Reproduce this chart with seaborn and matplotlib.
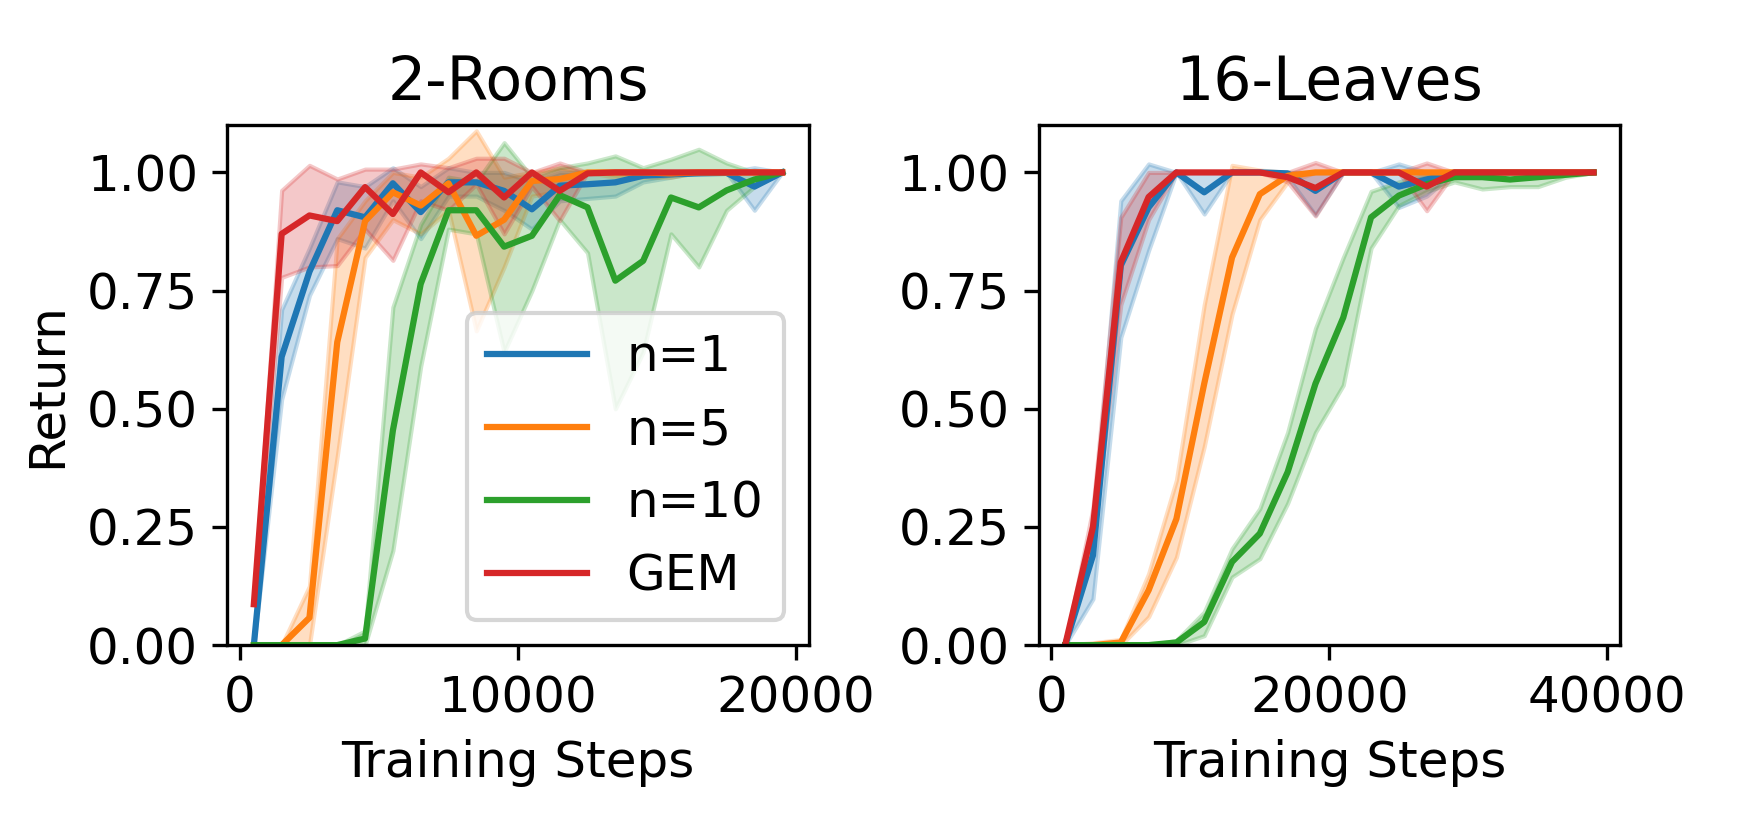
import matplotlib
matplotlib.use('Agg')
import matplotlib.pyplot as plt
import seaborn as sns
import pandas as pd

# ---- data ----
methods = ['n=1', 'n=5', 'n=10', 'GEM']
colors = ['#1f77b4', '#ff7f0e', '#2ca02c', '#d62728']

# 2-Rooms
rooms_steps = [500, 1500, 2500, 3500, 4500, 5500, 6500, 7500, 8500, 9500,
               10500, 11500, 12500, 13500, 14500, 15500, 16500, 17500, 18500, 19500]
rooms_n1 = [0.0, 0.61, 0.79, 0.92, 0.905, 0.977, 0.916, 0.979, 0.979, 0.961,
            0.922, 0.972, 0.975, 0.979, 0.993, 0.996, 0.998, 0.999, 0.97, 1.0]
rooms_n1_lo = [0.0, 0.52, 0.74, 0.86, 0.84, 0.94, 0.86, 0.95, 0.95, 0.92,
               0.88, 0.94, 0.945, 0.95, 0.98, 0.99, 1.0, 1.0, 0.92, 1.0]
rooms_n1_hi = [0.0, 0.71, 0.84, 0.98, 0.97, 1.01, 0.97, 1.01, 1.0, 1.0,
               0.98, 1.0, 1.0, 1.0, 1.0, 1.0, 1.0, 1.0, 1.01, 1.0]
rooms_n5 = [0.0, 0.0, 0.058, 0.641, 0.897, 0.958, 0.93, 0.977, 0.866, 0.90,
            0.982, 0.986, 1.0, 1.0, 1.0, 0.998, 1.0, 1.0, 1.0, 1.0]
rooms_n5_lo = [0.0, 0.0, 0.0, 0.40, 0.82, 0.90, 0.87, 0.92, 0.665, 0.80,
               0.95, 0.96, 1.0, 0.99, 0.99, 0.99, 1.0, 1.0, 1.0, 1.0]
rooms_n5_hi = [0.0, 0.0, 0.125, 0.86, 0.94, 1.0, 0.99, 1.03, 1.088, 0.99,
               1.0, 1.01, 1.0, 1.0, 1.0, 1.0, 1.0, 1.0, 1.0, 1.0]
rooms_n10 = [0.0, 0.0, 0.0, 0.0, 0.014, 0.454, 0.764, 0.92, 0.92, 0.843,
             0.866, 0.952, 0.926, 0.771, 0.813, 0.947, 0.926, 0.962, 0.985, 1.0]
rooms_n10_lo = [0.0, 0.0, 0.0, 0.0, 0.0, 0.20, 0.59, 0.88, 0.87, 0.62,
                0.75, 0.90, 0.83, 0.50, 0.62, 0.87, 0.80, 0.92, 0.97, 1.0]
rooms_n10_hi = [0.0, 0.0, 0.0, 0.0, 0.03, 0.715, 0.89, 0.99, 0.98, 1.063,
                0.99, 1.01, 1.02, 1.035, 1.01, 1.028, 1.049, 1.02, 1.0, 1.0]
rooms_gem = [0.0865, 0.870, 0.909, 0.897, 0.969, 0.912, 1.0, 0.958, 1.0, 0.947,
             1.0, 0.961, 0.998, 1.0, 1.0, 1.0, 1.0, 1.0, 1.0, 1.0]
rooms_gem_lo = [0.0865, 0.778, 0.80, 0.803, 0.88, 0.814, 0.94, 0.92, 0.975, 0.87,
                0.97, 0.898, 1.0, 1.0, 1.0, 1.0, 1.0, 1.0, 1.0, 1.0]
rooms_gem_hi = [0.0865, 0.962, 1.015, 0.986, 1.007, 1.007, 1.018, 1.01, 1.03, 1.03,
                1.0, 1.02, 1.0, 1.0, 1.0, 1.0, 1.0, 1.0, 1.0, 1.0]

# 16-Leaves
leaves_steps = [1000, 3000, 5000, 7000, 9000, 11000, 13000, 15000, 17000, 19000,
                21000, 23000, 25000, 27000, 29000, 31000, 33000, 35000, 37000, 39000]
leaves_n1 = [0.0, 0.19, 0.803, 0.926, 1.0, 0.958, 1.0, 1.0, 0.998, 0.961,
             1.0, 1.0, 0.97, 0.985, 1.0, 1.0, 1.0, 1.0, 1.0, 1.0]
leaves_n1_lo = [0.0, 0.098, 0.651, 0.835, 1.0, 0.912, 1.0, 1.0, 0.99, 0.91,
                1.0, 1.0, 0.926, 0.95, 1.0, 1.0, 1.0, 1.0, 1.0, 1.0]
leaves_n1_hi = [0.0, 0.25, 0.94, 1.018, 1.0, 1.0, 1.0, 1.0, 1.0, 1.0,
                1.0, 1.0, 1.018, 1.0, 1.0, 1.0, 1.0, 1.0, 1.0, 1.0]
leaves_n5 = [0.0, 0.0, 0.0056, 0.116, 0.267, 0.553, 0.82, 0.954, 0.993, 1.0,
             1.0, 1.0, 1.0, 1.0, 1.0, 1.0, 1.0, 1.0, 1.0, 1.0]
leaves_n5_lo = [0.0, 0.0, 0.0, 0.06, 0.186, 0.42, 0.70, 0.90, 0.98, 1.0,
                1.0, 1.0, 1.0, 1.0, 1.0, 1.0, 1.0, 1.0, 1.0, 1.0]
leaves_n5_hi = [0.0, 0.005, 0.012, 0.151, 0.349, 0.72, 1.015, 1.005, 1.0, 1.0,
                1.0, 1.0, 1.0, 1.0, 1.0, 1.0, 1.0, 1.0, 1.0, 1.0]
leaves_n10 = [0.0, 0.0, 0.0, 0.0, 0.0056, 0.049, 0.176, 0.236, 0.366, 0.553,
              0.693, 0.905, 0.951, 0.975, 0.99, 0.99, 0.985, 0.99, 0.995, 1.0]
leaves_n10_lo = [0.0, 0.0, 0.0, 0.0, 0.0, 0.02, 0.144, 0.183, 0.30, 0.45,
                 0.55, 0.84, 0.93, 0.96, 0.98, 0.965, 0.97, 0.97, 0.99, 1.0]
leaves_n10_hi = [0.0, 0.0, 0.0, 0.0, 0.01, 0.07, 0.204, 0.289, 0.45, 0.67,
                 0.82, 0.96, 0.98, 0.995, 1.0, 1.0, 1.0, 1.0, 1.0, 1.0]
leaves_gem = [0.0, 0.25, 0.81, 0.948, 1.0, 1.0, 1.0, 1.0, 0.99, 0.967,
              1.0, 1.0, 1.0, 0.97, 1.0, 1.0, 1.0, 1.0, 1.0, 1.0]
leaves_gem_lo = [0.0, 0.22, 0.72, 0.90, 1.0, 1.0, 1.0, 1.0, 0.98, 0.908,
                 1.0, 1.0, 1.0, 0.919, 1.0, 1.0, 1.0, 1.0, 1.0, 1.0]
leaves_gem_hi = [0.0, 0.29, 0.905, 1.0, 1.0, 1.0, 1.0, 1.0, 1.0, 1.021,
                 1.0, 1.0, 1.0, 1.02, 1.0, 1.0, 1.0, 1.0, 1.0, 1.0]

panels = [
    ('2-Rooms', rooms_steps,
     [(rooms_n1, rooms_n1_lo, rooms_n1_hi),
      (rooms_n5, rooms_n5_lo, rooms_n5_hi),
      (rooms_n10, rooms_n10_lo, rooms_n10_hi),
      (rooms_gem, rooms_gem_lo, rooms_gem_hi)],
     [0, 10000, 20000]),
    ('16-Leaves', leaves_steps,
     [(leaves_n1, leaves_n1_lo, leaves_n1_hi),
      (leaves_n5, leaves_n5_lo, leaves_n5_hi),
      (leaves_n10, leaves_n10_lo, leaves_n10_hi),
      (leaves_gem, leaves_gem_lo, leaves_gem_hi)],
     [0, 20000, 40000]),
]

plt.rcParams['font.size'] = 12
plt.rcParams['font.family'] = ['DejaVu Sans']

fig, axes = plt.subplots(1, 2, figsize=(5.8, 2.8), dpi=300)
fig.subplots_adjust(left=0.1307, right=0.931, bottom=0.232, top=0.851, wspace=0.396)

for ax, (title, steps, series, xticks) in zip(axes, panels):
    # shaded bands first so the mean lines sit on top
    for (mean, lo, hi), color in zip(series, colors):
        ax.fill_between(steps, lo, hi, color=color, alpha=0.25, linewidth=1)
    for (mean, lo, hi), name, color in zip(series, methods, colors):
        df = pd.DataFrame({'step': steps, 'ret': mean})
        sns.lineplot(data=df, x='step', y='ret', color=color, label=name,
                     linewidth=1.5, ax=ax, legend=False)
    ax.set_title(title)
    ax.set_xlabel('Training Steps')
    ax.set_ylabel('')
    ax.set_ylim(0, 1.1)
    ax.set_yticks([0, 0.25, 0.5, 0.75, 1.0])
    ax.set_xticks(xticks)

axes[0].set_ylabel('Return')
axes[0].legend(loc='lower right')

plt.savefig('out.png', dpi=300)
plt.close()
print("Saved: out.png")
